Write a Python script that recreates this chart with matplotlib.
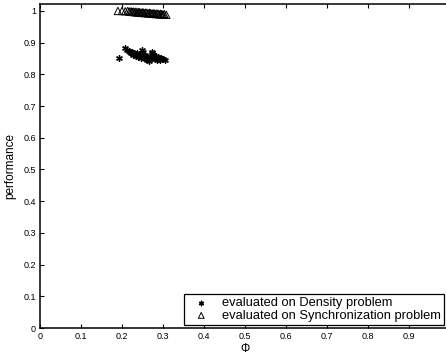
import matplotlib
matplotlib.use('Agg')
import matplotlib.pyplot as plt

plt.rcParams['font.family'] = ['Liberation Sans', 'DejaVu Sans']

# rule evaluated on the density task
phi_density = [0.193, 0.207, 0.212, 0.216, 0.219, 0.222, 0.224, 0.226, 0.228, 0.230,
               0.232, 0.234, 0.236, 0.238, 0.240, 0.242, 0.244, 0.246, 0.248, 0.250,
               0.252, 0.254, 0.256, 0.258, 0.260, 0.262, 0.264, 0.266, 0.268, 0.270,
               0.272, 0.274, 0.276, 0.278, 0.280, 0.282, 0.284, 0.286, 0.288, 0.290,
               0.292, 0.295, 0.298, 0.301, 0.304]
perf_density = [0.851, 0.882, 0.878, 0.874, 0.871, 0.868, 0.872, 0.866, 0.862, 0.869,
                0.864, 0.858, 0.866, 0.861, 0.856, 0.863, 0.859, 0.853, 0.876, 0.870,
                0.858, 0.851, 0.862, 0.848, 0.855, 0.845, 0.852, 0.842, 0.848, 0.856,
                0.872, 0.866, 0.860, 0.854, 0.848, 0.858, 0.852, 0.846, 0.855, 0.849,
                0.844, 0.852, 0.847, 0.850, 0.846]

# same rules evaluated on the synchronization task
phi_sync = [0.190, 0.200, 0.208, 0.214, 0.218, 0.222, 0.225, 0.228, 0.231, 0.234,
            0.237, 0.240, 0.243, 0.246, 0.249, 0.252, 0.255, 0.258, 0.261, 0.264,
            0.267, 0.270, 0.273, 0.276, 0.279, 0.282, 0.285, 0.288, 0.291, 0.294,
            0.297, 0.300, 0.303, 0.308]
perf_sync = [1.000, 1.000, 0.999, 1.000, 0.998, 0.999, 0.997, 0.998, 0.996, 0.998,
             0.995, 0.997, 0.996, 0.994, 0.996, 0.995, 0.993, 0.995, 0.994, 0.992,
             0.994, 0.993, 0.991, 0.993, 0.992, 0.990, 0.992, 0.991, 0.989, 0.991,
             0.990, 0.989, 0.990, 0.988]

x_ticks = [0, 0.1, 0.2, 0.3, 0.4, 0.5, 0.6, 0.7, 0.8, 0.9]
y_ticks = [0, 0.1, 0.2, 0.3, 0.4, 0.5, 0.6, 0.7, 0.8, 0.9, 1]

fig = plt.figure(figsize=(4.46, 3.56), dpi=100)
# right edge of the axes runs just past the figure border
ax = fig.add_axes([40/446, 28/356, 410/446, 324/356])

ax.scatter(phi_density, perf_density, marker=(6, 2, 0), s=16, c='k', linewidths=1.0,
           label='evaluated on Density problem')
ax.scatter(phi_sync, perf_sync, marker='^', s=28, facecolors='none', edgecolors='k',
           linewidths=0.7, label='evaluated on Synchronization problem')

ax.set_xlim(0, 1)
ax.set_ylim(0, 1.022)
ax.set_xticks(x_ticks)
ax.set_xticklabels(['%g' % t for t in x_ticks])
ax.set_yticks(y_ticks)
ax.set_yticklabels(['%g' % t for t in y_ticks])
ax.tick_params(direction='in', length=3, width=0.8, labelsize=6.5, top=True, right=True, pad=3)
for s in ax.spines.values():
    s.set_linewidth(1.1)

ax.set_xlabel('Φ', fontsize=8.5, labelpad=1)
ax.set_ylabel('performance', fontsize=8.5, labelpad=5)

leg = ax.legend(loc='lower right', bbox_to_anchor=(444/446, 31/356),
                bbox_transform=fig.transFigure, borderaxespad=0, fontsize=9.3,
                fancybox=False, framealpha=1, edgecolor='k', handletextpad=0.5,
                handlelength=2.2, borderpad=0.25, labelspacing=0.05, scatterpoints=1,
                markerscale=0.8)
leg.get_frame().set_linewidth(0.9)

fig.savefig('out.png', dpi=100)
